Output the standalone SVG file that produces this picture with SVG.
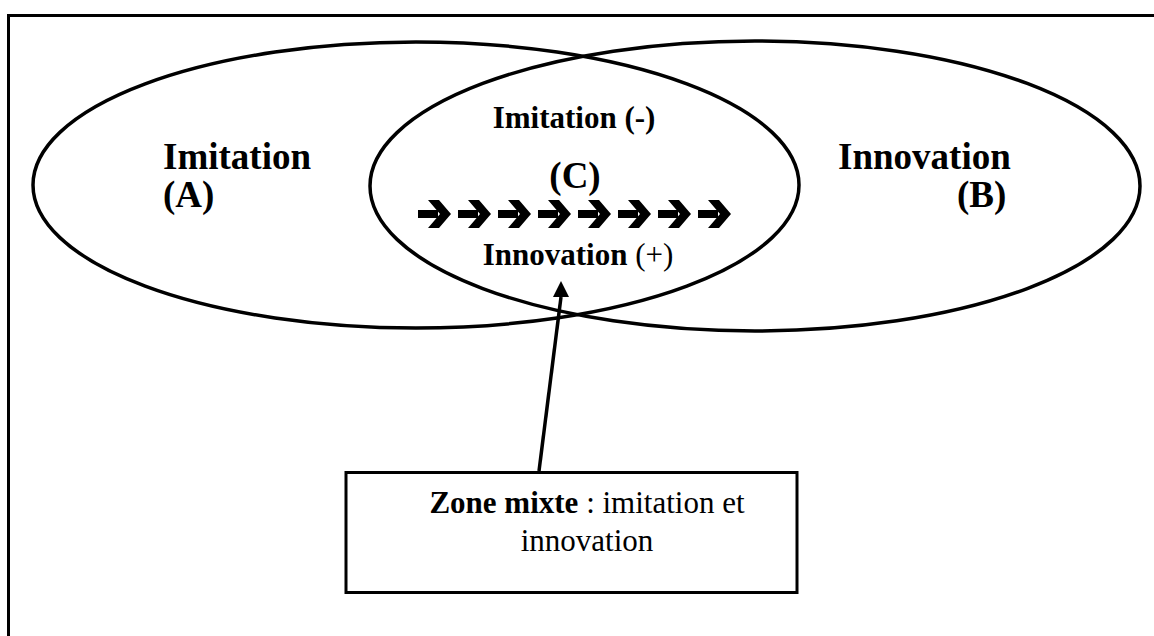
<svg xmlns="http://www.w3.org/2000/svg" width="1154" height="636" viewBox="0 0 1154 636">
<style>
.ln{fill:none;stroke:#000;stroke-width:3.5}
.t{font-family:"Liberation Serif","Times New Roman",serif;fill:#000}
.b{font-weight:bold}
.big{font-size:37px}
.mid{font-size:31px}
</style>
<defs>
<marker id="ah" viewBox="0 0 16 16" refX="8" refY="1" markerWidth="16" markerHeight="16" markerUnits="userSpaceOnUse" orient="auto-start-reverse">
<polygon points="8,0 16,16 0,16" fill="#000"/>
</marker>
<g id="chev">
<rect x="0" y="210" width="20" height="8" fill="#000"/>
<polygon points="10,200 21,200 33,214 21,228 10,228 22,214" fill="#000"/>
</g>
</defs>
<rect width="1154" height="636" fill="#fff"/>
<rect x="8.5" y="15.5" width="1160" height="640" fill="none" stroke="#000" stroke-width="3"/>
<g id="ellipseA">
<ellipse class="ln" cx="416" cy="185" rx="383" ry="143"/>
<text class="t b big" x="163" y="169">Imitation</text>
<text class="t b big" x="163" y="207">(A)</text>
</g>
<g id="ellipseB">
<ellipse class="ln" cx="755" cy="186" rx="385" ry="145"/>
<text class="t b big" x="838" y="169">Innovation</text>
<text class="t b big" x="957" y="207">(B)</text>
</g>
<g id="zoneC">
<text class="t b mid" x="574" y="128" text-anchor="middle">Imitation (-)</text>
<text class="t b big" x="575" y="188" text-anchor="middle">(C)</text>
<use href="#chev" x="418"/>
<use href="#chev" x="458"/>
<use href="#chev" x="498"/>
<use href="#chev" x="538"/>
<use href="#chev" x="578"/>
<use href="#chev" x="618"/>
<use href="#chev" x="658"/>
<use href="#chev" x="698"/>
<text class="t mid" x="578" y="265" text-anchor="middle"><tspan class="b">Innovation</tspan> (+)</text>
</g>
<g id="box">
<rect x="346" y="472.5" width="451" height="120" fill="#fff" stroke="#000" stroke-width="3"/>
<text class="t mid" x="587" y="513" text-anchor="middle"><tspan class="b">Zone mixte</tspan> : imitation et</text>
<text class="t mid" x="587" y="551" text-anchor="middle">innovation</text>
</g>
<g id="connectors">
<line class="ln" x1="539" y1="471" x2="561" y2="297" stroke-width="3.5"/>
<polygon points="561,281 569,297 553,297" fill="#000"/>
</g>
</svg>
